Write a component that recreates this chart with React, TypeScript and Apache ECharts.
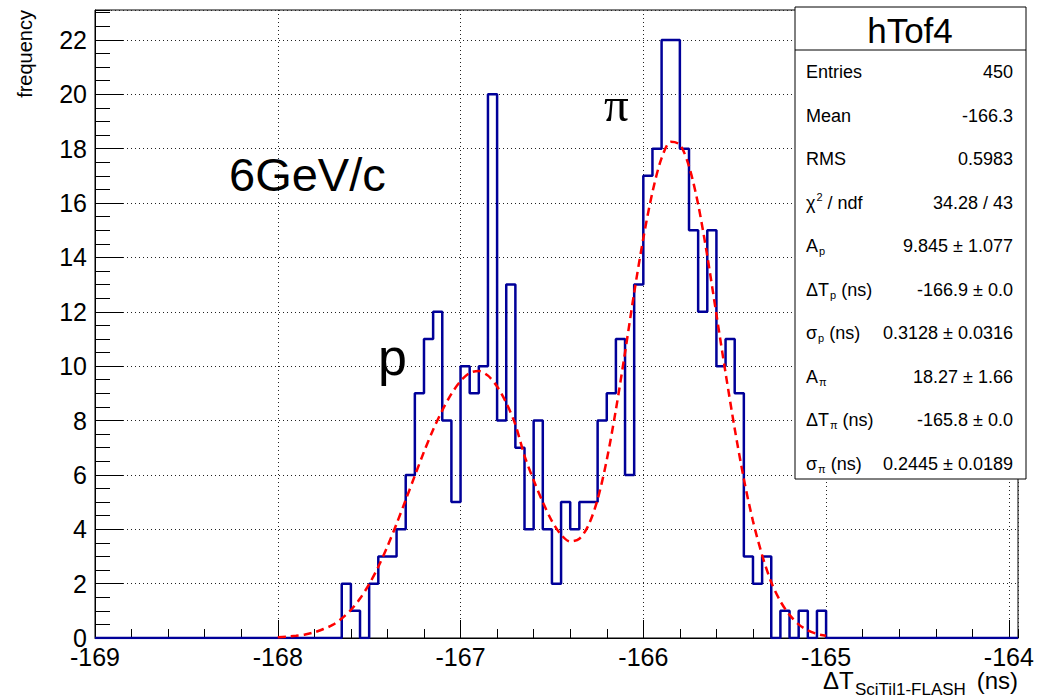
import React, { useEffect, useRef } from "react";
import * as echarts from "echarts";

// ---- data ----
const xMin = -169;
const xMax = -163.95;
const yMax = 23.1;
const binStart = -167.65;
const binWidth = 0.05;
const counts = [
  2, 1, 0, 2, 3, 3, 4, 6, 9, 11,
  12, 8, 5, 10, 9, 10, 20, 8, 13, 7,
  4, 8, 4, 2, 5, 4, 5, 5, 8, 9,
  11, 6, 13, 17, 18, 22, 22, 18, 15, 12,
  15, 10, 11, 9, 3, 2, 3, 0, 1, 0,
  1, 0, 1,
];
const fitStart = -168;
const fitStep = 0.05;
const fitValues = [
  0.03, 0.05, 0.08, 0.13, 0.21, 0.33, 0.48, 0.72, 1.03, 1.45,
  1.98, 2.62, 3.37, 4.2, 5.08, 5.97, 6.85, 7.66, 8.37, 8.98,
  9.45, 9.75, 9.82, 9.65, 9.25, 8.65, 7.85, 6.7, 5.8, 5.0,
  4.3, 3.8, 3.55, 3.65, 4.15, 5.1, 6.55, 8.4, 10.5, 12.7,
  14.7, 16.4, 17.65, 18.25, 18.15, 17.35, 15.95, 14.05, 11.9, 9.75,
  7.7, 5.85, 4.3, 3.05, 2.05, 1.35, 0.85, 0.5, 0.28, 0.15,
  0.08,
];

const statTitle = "hTof4";
const statLabels = ["Entries", "Mean", "RMS", "χ", "A", "ΔT", "σ", "A", "ΔT", "σ"];
const statSubs = ["", "", "", "", "p", "p", "p", "π", "π", "π"];
const statSups = ["", "", "", "2", "", "", "", "", "", ""];
const statSuffix = ["", "", "", " / ndf", "", " (ns)", " (ns)", "", " (ns)", " (ns)"];
const statValues = [
  "450",
  "-166.3",
  "0.5983",
  "34.28 / 43",
  "9.845 ± 1.077",
  "-166.9 ± 0.0",
  "0.3128 ± 0.0316",
  "18.27 ± 1.66",
  "-165.8 ± 0.0",
  "0.2445 ± 0.0189",
];

const FONT = "'Liberation Sans', Arial, Helvetica, sans-serif";

export default function App() {
  const ref = useRef<HTMLDivElement>(null);

  useEffect(() => {
    const el = ref.current!;
    const chart = echarts.init(el, null, { renderer: "svg" });

    const ctx = document.createElement("canvas").getContext("2d")!;
    const measure = (t: string, size: number) => {
      ctx.font = `${size}px ${FONT}`;
      return ctx.measureText(t).width;
    };

    // histogram outline
    const hist: number[][] = [[xMin, 0], [binStart, 0]];
    counts.forEach((c, i) => {
      const lo = binStart + i * binWidth;
      hist.push([lo, c], [lo + binWidth, c]);
    });
    const binEnd = binStart + counts.length * binWidth;
    hist.push([binEnd, 0], [xMax, 0]);

    const fit = fitValues.map((v, i) => [fitStart + i * fitStep, v]);

    const txt = (
      text: string,
      x: number,
      y: number,
      size: number,
      align: string = "left",
      extra: any = {}
    ) => ({
      type: "text",
      x,
      y,
      z: 110,
      style: {
        text,
        fontSize: size,
        fontFamily: extra.family || FONT,
        fill: "#000",
        align,
        verticalAlign: "middle",
        lineHeight: extra.lineHeight || undefined,
      },
      ...(extra.rotation !== undefined ? { rotation: extra.rotation } : {}),
    });

    const statsX0 = 795;
    const statsX1 = 1026;
    const statsY0 = 7;
    const statsY1 = 479;
    const rowY0 = 72;
    const rowStep = 43.5;
    const fs = 18;
    const graphics: any[] = [
      {
        type: "rect",
        z: 100,
        shape: { x: statsX0, y: statsY0, width: statsX1 - statsX0, height: statsY1 - statsY0 },
        style: { fill: "#fff", stroke: "#000", lineWidth: 1 },
      },
      {
        type: "line",
        z: 101,
        shape: { x1: statsX0, y1: 50, x2: statsX1, y2: 50 },
        style: { stroke: "#000", lineWidth: 1 },
      },
      txt(statTitle, 910, 30, 35, "center"),
    ];
    statLabels.forEach((lab, i) => {
      const y = rowY0 + i * rowStep;
      let x = 806;
      graphics.push(txt(lab, x, y, fs));
      x += measure(lab, fs);
      if (statSups[i]) {
        graphics.push(txt(statSups[i], x + 1, y - 6, 11));
        x += measure(statSups[i], 11) + 1;
      }
      if (statSubs[i]) {
        graphics.push(txt(statSubs[i], x + 1, y + 5, 11));
        x += measure(statSubs[i], 11) + 1;
      }
      if (statSuffix[i]) {
        graphics.push(txt(statSuffix[i], x, y, fs));
      }
      graphics.push(txt(statValues[i], 1013, y, fs, "right"));
    });

    // annotations
    graphics.push(txt("6GeV/c", 229, 174, 47));
    graphics.push(txt("p", 378, 357, 52));
    graphics.push(txt("π", 604, 104, 49, "left", { family: "'Liberation Serif', 'DejaVu Serif', serif" }));
    // axis titles
    graphics.push(txt("frequency", 25, 10, 20, "right", { rotation: Math.PI / 2 }));
    graphics.push(txt("ΔT", 823, 680, 24, "left", { lineHeight: 20 }));
    graphics.push(txt("SciTil1-FLASH", 855, 689, 17, "left", { lineHeight: 14 }));
    graphics.push(txt("(ns)", 1018, 680, 24, "right", { lineHeight: 20 }));

    const labelStyle = { fontFamily: FONT, fontSize: 25, color: "#000", lineHeight: 19 };
    const split = { show: true, lineStyle: { color: "#222", width: 1, type: [1, 3] } };

    chart.setOption({
      animation: false,
      backgroundColor: "#fff",
      grid: {
        left: 95,
        top: 10,
        right: 25,
        bottom: 60,
        show: true,
        borderColor: "#000",
        borderWidth: 1,
        backgroundColor: "transparent",
      },
      xAxis: [
        {
          type: "value",
          min: xMin,
          max: xMax,
          interval: 1,
          position: "bottom",
          axisLine: { show: true, onZero: false, lineStyle: { color: "#000", width: 1 } },
          axisTick: { show: true, inside: true, length: 18, lineStyle: { color: "#000" } },
          axisLabel: { ...labelStyle, margin: 9, showMaxLabel: false, showMinLabel: true },
          splitLine: split,
        },
        {
          type: "value",
          min: xMin,
          max: xMax,
          interval: 0.2,
          position: "bottom",
          axisLine: { show: false },
          axisTick: { show: true, inside: true, length: 9, lineStyle: { color: "#000" } },
          axisLabel: { show: false },
          splitLine: { show: false },
        },
      ],
      yAxis: [
        {
          type: "value",
          min: 0,
          max: yMax,
          interval: 2,
          position: "left",
          axisLine: { show: true, onZero: false, lineStyle: { color: "#000", width: 1 } },
          axisTick: { show: true, inside: true, length: 28, lineStyle: { color: "#000" } },
          axisLabel: { ...labelStyle, margin: 8, showMaxLabel: false },
          splitLine: split,
        },
        {
          type: "value",
          min: 0,
          max: yMax,
          interval: 0.5,
          position: "left",
          axisLine: { show: false },
          axisTick: { show: true, inside: true, length: 15, lineStyle: { color: "#000" } },
          axisLabel: { show: false },
          splitLine: { show: false },
        },
      ],
      series: [
        {
          type: "line",
          name: "hTof4",
          data: hist,
          showSymbol: false,
          symbol: "none",
          lineStyle: { color: "#000099", width: 2.5 },
          z: 3,
        },
        {
          type: "line",
          name: "fit",
          data: fit,
          showSymbol: false,
          symbol: "none",
          smooth: 0.3,
          lineStyle: { color: "#ff0000", width: 2.5, type: [8, 5] },
          z: 4,
        },
      ],
      graphic: graphics,
    });

    return () => chart.dispose();
  }, []);

  return (
    <div
      ref={ref}
      style={{ position: "fixed", left: 0, top: 0, width: 1043, height: 698, background: "#fff" }}
    />
  );
}
